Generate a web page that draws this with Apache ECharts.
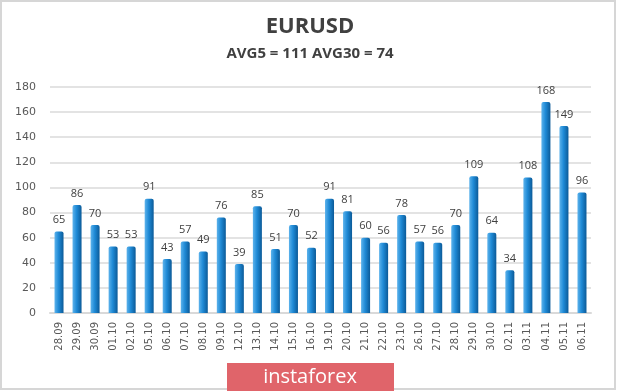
<!DOCTYPE html>
<html><head><meta charset="utf-8">
<script src="https://cdn.jsdelivr.net/npm/echarts@6/dist/echarts.min.js"></script>
<style>html,body{margin:0;padding:0;background:#fff}#c{width:620px;height:392px}</style>
</head><body><div id="c"></div>
<script>
const categories = ['28.09','29.09','30.09','01.10','02.10','05.10','06.10','07.10','08.10','09.10','12.10','13.10','14.10','15.10','16.10','19.10','20.10','21.10','22.10','23.10','26.10','27.10','28.10','29.10','30.10','02.11','03.11','04.11','05.11','06.11'];
const values = [65,86,70,53,53,91,43,57,49,76,39,85,51,70,52,91,81,60,56,78,57,56,70,109,64,34,108,168,149,96];
const titleText = 'EURUSD';
const subtitleText = 'AVG5 = 111 AVG30 = 74';
const brandText = 'instaforex';

const chart = echarts.init(document.getElementById('c'), null, {renderer:'canvas'});
chart.setOption({
  backgroundColor:'#fff',
  animation:false,
  title:{
    text:titleText, subtext:subtitleText, left:'center', top:11, itemGap:8,
    textStyle:{fontFamily:'Open Sans', fontWeight:'bold', fontSize:22, color:'#404040'},
    subtextStyle:{fontFamily:'Open Sans', fontWeight:'bold', fontSize:15, color:'#404040'}
  },
  grid:{left:50, right:29, top:87, bottom:79, containLabel:false},
  xAxis:{
    type:'category', data:categories,
    axisLine:{show:true, lineStyle:{color:'#d9d9d9', width:2}},
    axisTick:{show:false},
    axisLabel:{rotate:90, fontSize:10, color:'#595959', margin:9, fontFamily:'DejaVu Sans', interval:0}
  },
  yAxis:{
    type:'value', min:0, max:180, interval:20,
    axisLine:{show:false}, axisTick:{show:false},
    axisLabel:{fontSize:11, color:'#595959', margin:14, fontFamily:'DejaVu Sans'},
    splitLine:{lineStyle:{color:'#e3e3e3', width:2}}
  },
  series:[{
    type:'bar', data:values, barWidth:9,
    itemStyle:{
      color:new echarts.graphic.LinearGradient(0,0,1,0,[
        {offset:0,color:'#5db3ec'},{offset:0.45,color:'#1f8ad6'},{offset:1,color:'#0b5a98'}
      ]),
      borderRadius:[2,2,0,0]
    },
    label:{show:true, position:'top', distance:6, fontSize:11, color:'#404040', fontFamily:'Open Sans'}
  }],
  graphic:[
    {type:'rect', shape:{x:1, y:1, width:614, height:388}, style:{fill:'none', stroke:'#d6d6d6', lineWidth:2}, z:-1},
    {type:'rect', shape:{x:227, y:363, width:167, height:28}, style:{fill:'#e0646a'}},
    {type:'text', x:310, y:377, style:{text:brandText, fill:'#fff', font:'20px "Open Sans"', textAlign:'center', textVerticalAlign:'middle'}}
  ]
});
</script></body></html>
